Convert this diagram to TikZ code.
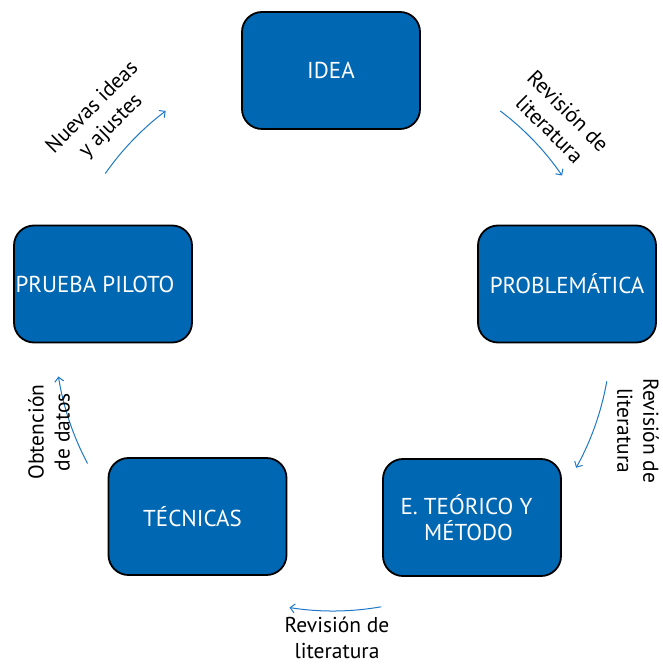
\documentclass[tikz,border=0pt]{standalone}
\usepackage{fontspec}
\setmainfont{PT Sans}
\usetikzlibrary{arrows.meta,calc}
\definecolor{boxblue}{RGB}{0,103,179}
\definecolor{arrowblue}{RGB}{30,120,200}
\begin{document}
\begin{tikzpicture}[x=1pt,y=1pt,
  stage/.style={draw=black, line width=1.8pt, fill=boxblue, rounded corners=20pt,
    minimum width=178pt, minimum height=117pt, text=white,
    font=\fontsize{23}{26}\selectfont, align=center, inner sep=0pt},
  lbl/.style={font=\fontsize{21.5}{26}\selectfont, align=center, text=black, inner sep=0pt},
  flow/.style={draw=arrowblue, line width=1pt, -{Straight Barb[length=4.5pt,width=9pt]}}]
\useasboundingbox (0,0) rectangle (663,665);

\node[stage] (idea)    at (331,594.5) {IDEA};
\node[stage] (prob)    at (567,381)   {PROBLEMÁTICA};
\node[stage] (piloto)  at (103,381)   {PRUEBA PILOTO\hspace*{16pt}};
\node[stage] (teorico) at (472,147.5) {E. TEÓRICO Y\hspace*{11pt}\\MÉTODO\hspace*{7pt}};
\node[stage] (tecnicas) at (197.5,148.5) {TÉCNICAS\hspace*{10pt}};

\coordinate (c) at (333,332);
\coordinate (a1) at ($(c)+(145:278)$);
\coordinate (a2) at ($(c)+(53:278)$);
\coordinate (a3) at ($(c)+(-10:278)$);
\coordinate (a4) at ($(c)+(-80:278)$);
\coordinate (a5) at ($(c)+(208:278)$);

\draw[flow] (a1) arc[start angle=145, end angle=127, radius=278];
\draw[flow] (a2) arc[start angle=53, end angle=34.5, radius=278];
\draw[flow] (a3) arc[start angle=-10, end angle=-29, radius=278];
\draw[flow] (a4) arc[start angle=-80, end angle=-99, radius=278];
\draw[flow] (a5) arc[start angle=208, end angle=189, radius=278];

\node[lbl, rotate=45]  (l1) at (102,548) {Nuevas ideas\\y ajustes};
\node[lbl, rotate=-45] (l2) at (559,545) {Revisión de\\literatura};
\node[lbl, rotate=-90] (l3) at (638,234) {Revisión de\\literatura};
\node[lbl]             (l4) at (337,27)  {Revisión de\\literatura};
\node[lbl, rotate=90]  (l5) at (49,233)  {Obtención\\de datos};
\end{tikzpicture}
\end{document}
